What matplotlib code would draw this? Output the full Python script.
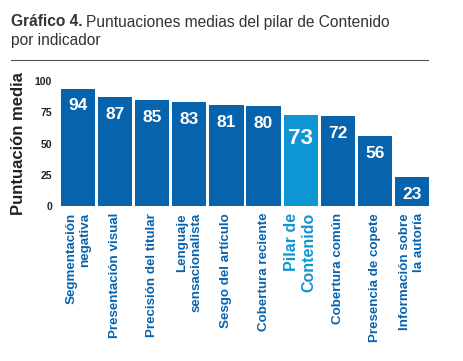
import matplotlib
matplotlib.use("Agg")
import matplotlib.pyplot as plt
from matplotlib.lines import Line2D

categories = ["Segmentación\nnegativa", "Presentación visual", "Precisión del titular",
              "Lenguaje\nsensacionalista", "Sesgo del artículo", "Cobertura reciente",
              "Pilar de\nContenido", "Cobertura común", "Presencia de copete",
              "Información sobre\nla autoría"]
values = [94, 87, 85, 83, 81, 80, 73, 72, 56, 23]
highlight = "Pilar de\nContenido"
yticks = [0, 25, 50, 75, 100]

dark = "#0863AD"
light = "#0E95D3"

plt.rcParams['font.family'] = ['Liberation Sans', 'DejaVu Sans']

fig = plt.figure(figsize=(4.63, 3.61), dpi=100)
W, H = 463, 361
ax = fig.add_axes([59.5 / W, 1 - 206 / H, 371 / W, 125 / H])

colors = [light if c == highlight else dark for c in categories]
x = range(len(categories))
bars = ax.bar(x, values, width=0.92, color=colors)
ax.set_xlim(-0.5, len(categories) - 0.5)
ax.set_ylim(0, 100)
ax.set_yticks(yticks)
ax.set_yticklabels([str(t) for t in yticks], fontsize=7.5, fontweight='bold', color='#222222')
ax.tick_params(axis='y', length=0, pad=5.4)
ax.set_xticks(list(x))
ax.set_xticklabels(categories, rotation=90, ha='center', va='top', multialignment='right',
                   fontsize=9.6, fontweight='bold')
for lbl, c in zip(ax.get_xticklabels(), categories):
    if c == highlight:
        lbl.set_color(light)
        lbl.set_fontsize(11.5)
    else:
        lbl.set_color(dark)
ax.tick_params(axis='x', length=0, pad=5)
for s in ax.spines.values():
    s.set_visible(False)

for b, v, c in zip(bars, values, categories):
    big = c == highlight
    ax.annotate(str(v), (b.get_x() + b.get_width() / 2, v), xytext=(0, -17 if big else -12.5),
                textcoords='offset points', ha='center', va='center', color='white',
                fontweight='bold', fontsize=16 if big else 12.5)

ax.set_ylabel("Puntuación media", fontsize=12, fontweight='bold', color='#222222')
ax.yaxis.set_label_coords((26 - 59.5) / 371, 0.5)

fs = 11.2
t1 = fig.text(11 / W, 1 - 22 / H, "Gráfico 4.", fontsize=fs, fontweight='bold', color='#333333',
              va='center', ha='left')
fig.canvas.draw()
bb = t1.get_window_extent(fig.canvas.get_renderer())
fig.text((bb.x1 + 3) / W, 1 - 22 / H, "Puntuaciones medias del pilar de Contenido", fontsize=fs,
         color='#333333', va='center', ha='left')
fig.text(11 / W, 1 - 40 / H, "por indicador", fontsize=fs, color='#333333', va='center', ha='left')
fig.add_artist(Line2D([11 / W, 428 / W], [1 - 60 / H, 1 - 60 / H], color='#555555', lw=0.8,
                      transform=fig.transFigure))

fig.savefig("out.png", dpi=100)
